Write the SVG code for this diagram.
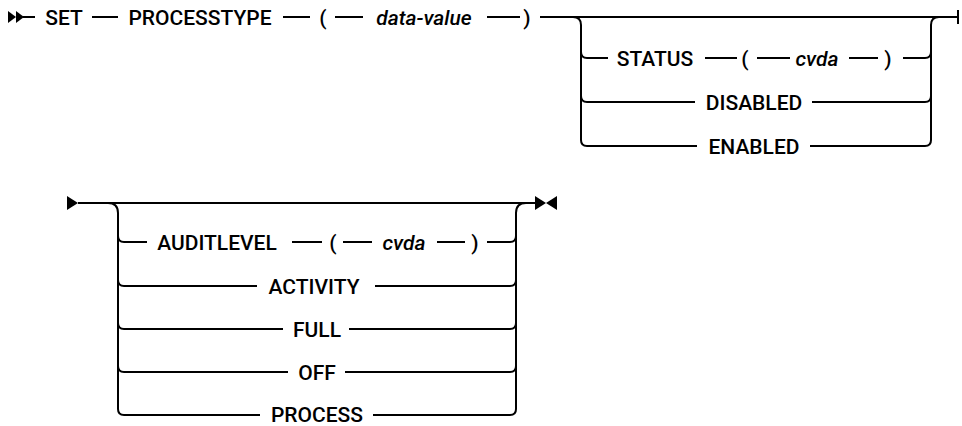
<svg xmlns="http://www.w3.org/2000/svg" width="962" height="426" viewBox="0 0 962 426">
<style>
.c{fill:none;stroke:#000;stroke-width:2;stroke-linecap:butt}
.t{font-family:Roboto,"Liberation Sans",Arial,sans-serif;font-size:21px;font-weight:500;fill:#000;text-anchor:middle}
.i{font-style:italic}
.m{fill:#000;stroke:none}
</style>
<rect width="962" height="426" fill="#fff"/>
<g id="connectors">
<polygon class="m" points="8,11 16,17 8,23"/>
<polygon class="m" points="16,11 24,17 16,23"/>
<path class="c" d="M23,17H35M92,17H118M283,17H310M335,17H363M487,17H520M540,17H958"/>
<path class="c" d="M958,10V24"/>
<path class="c" d="M573,17Q581,17 581,25V140"/>
<path class="c" d="M581,52Q581,58 587,58H608M705,58H737M757,58H790M849,58H878M903,58H925Q931,58 931,52"/>
<path class="c" d="M581,96Q581,102 587,102H695M812,102H925Q931,102 931,96"/>
<path class="c" d="M581,140Q581,146 587,146H697M810,146H925Q931,146 931,140"/>
<path class="c" d="M931,140V25Q931,17 939,17"/>
<polygon class="m" points="67,196 78,203 67,210"/>
<path class="c" d="M78,203H535"/>
<polygon class="m" points="535,196 546,203 535,210"/>
<polygon class="m" points="557,196 546,203 557,210"/>
<path class="c" d="M108,203Q118,203 118,213V409"/>
<path class="c" d="M118,236Q118,242 124,242H147M292,242H322M343,242H372M437,242H465M487,242H510Q516,242 516,236"/>
<path class="c" d="M118,280Q118,286 124,286H257M375,286H510Q516,286 516,280"/>
<path class="c" d="M118,323Q118,329 124,329H283M349,329H510Q516,329 516,323"/>
<path class="c" d="M118,366Q118,372 124,372H288M345,372H510Q516,372 516,366"/>
<path class="c" d="M118,409Q118,415 124,415H260M373,415H510Q516,415 516,409"/>
<path class="c" d="M516,409V213Q516,203 526,203"/>
</g>
<g id="set"><text class="t" x="64" y="24.5">SET</text></g>
<g id="processtype"><text class="t" x="200" y="24.5">PROCESSTYPE</text></g>
<g id="lparen1"><text class="t" x="323" y="24.5">(</text></g>
<g id="data-value"><text class="t i" x="424" y="24.5">data-value</text></g>
<g id="rparen1"><text class="t" x="527" y="24.5">)</text></g>
<g id="status"><text class="t" x="655" y="65.5">STATUS</text></g>
<g id="lparen2"><text class="t" x="745" y="65.5">(</text></g>
<g id="cvda1"><text class="t i" x="817" y="65.5">cvda</text></g>
<g id="rparen2"><text class="t" x="888" y="65.5">)</text></g>
<g id="disabled"><text class="t" x="754" y="109.5">DISABLED</text></g>
<g id="enabled"><text class="t" x="754" y="153.5">ENABLED</text></g>
<g id="auditlevel"><text class="t" x="217" y="249.5">AUDITLEVEL</text></g>
<g id="lparen3"><text class="t" x="333" y="249.5">(</text></g>
<g id="cvda2"><text class="t i" x="404" y="249.5">cvda</text></g>
<g id="rparen3"><text class="t" x="475" y="249.5">)</text></g>
<g id="activity"><text class="t" x="314" y="293.5">ACTIVITY</text></g>
<g id="full"><text class="t" x="317" y="336.5">FULL</text></g>
<g id="off"><text class="t" x="317" y="379.5">OFF</text></g>
<g id="process"><text class="t" x="317" y="422">PROCESS</text></g>
</svg>
